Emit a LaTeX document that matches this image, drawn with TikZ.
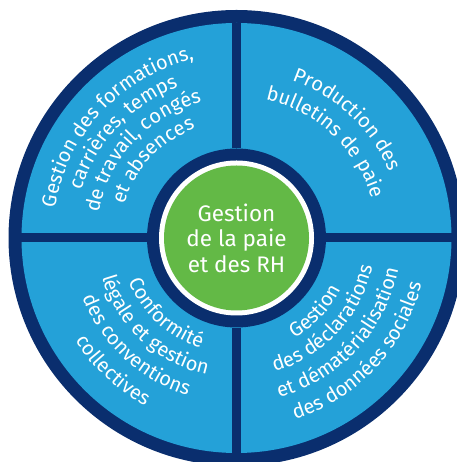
\documentclass[tikz,border=0pt]{standalone}
\usepackage{fontspec}
\setmainfont{Fira Sans}
\usetikzlibrary{decorations.text}
\definecolor{navy}{HTML}{0A2E6E}
\definecolor{skyb}{HTML}{24A1D8}
\definecolor{leaf}{HTML}{63B946}
\newcommand\ringfont{\fontsize{20}{20}\selectfont\color{white}}
\tikzset{
  disk/.style={circle, inner sep=0pt, draw=none},
  divider/.style={draw=navy, line width=9pt},
  ringtxt/.style={decorate, decoration={text along path, text align=center, text={|\ringfont|#1}}}
}
\begin{document}
\begin{tikzpicture}
\useasboundingbox (0,0) rectangle (456pt,462pt);
\coordinate (c) at (236.5pt,224pt);
\node[disk, fill=navy, minimum size=456pt] (outer) at (c) {};
\node[disk, fill=skyb, minimum size=430pt] (field) at (c) {};
\node[disk, minimum size=179pt] (hub) at (c) {};
\draw[divider] (hub.north) -- (field.north);
\draw[divider] (hub.south) -- (field.south);
\draw[divider] (hub.east) -- (field.east);
\draw[divider] (hub.west) -- (field.west);
\node[disk, fill=navy, minimum size=179pt] (hubring) at (c) {};
\node[disk, fill=white, minimum size=155pt] (hubwhite) at (c) {};
\node[disk, fill=leaf, minimum size=145pt, text=white, align=center,
      font=\fontsize{22.5}{25.5}\selectfont] (title) at (c) {Gestion\\de la paie\\et des RH};
% top-left
\path[ringtxt={Gestion des formations,}] ([shift={(187:184pt)}]c) arc[start angle=187, end angle=87, radius=184pt];
\path[ringtxt={carrières, temps}] ([shift={(187:162pt)}]c) arc[start angle=187, end angle=87, radius=162pt];
\path[ringtxt={de travail, congés}] ([shift={(187:140pt)}]c) arc[start angle=187, end angle=87, radius=140pt];
\path[ringtxt={et absences}] ([shift={(187:117pt)}]c) arc[start angle=187, end angle=87, radius=117pt];
% top-right
\path[ringtxt={Production des}] ([shift={(97:167pt)}]c) arc[start angle=97, end angle=-3, radius=167pt];
\path[ringtxt={bulletins de paie}] ([shift={(97:141pt)}]c) arc[start angle=97, end angle=-3, radius=141pt];
% bottom-left
\path[ringtxt={Conformité}] ([shift={(177:116pt)}]c) arc[start angle=177, end angle=277, radius=116pt];
\path[ringtxt={légale et gestion}] ([shift={(177:140pt)}]c) arc[start angle=177, end angle=277, radius=140pt];
\path[ringtxt={des conventions}] ([shift={(177:165pt)}]c) arc[start angle=177, end angle=277, radius=165pt];
\path[ringtxt={collectives}] ([shift={(177:191pt)}]c) arc[start angle=177, end angle=277, radius=191pt];
% bottom-right
\path[ringtxt={Gestion}] ([shift={(267:116pt)}]c) arc[start angle=267, end angle=367, radius=116pt];
\path[ringtxt={des déclarations}] ([shift={(267:139pt)}]c) arc[start angle=267, end angle=367, radius=139pt];
\path[ringtxt={et dématérialisation}] ([shift={(267:165pt)}]c) arc[start angle=267, end angle=367, radius=165pt];
\path[ringtxt={des données sociales}] ([shift={(267:191pt)}]c) arc[start angle=267, end angle=367, radius=191pt];
\end{tikzpicture}
\end{document}
